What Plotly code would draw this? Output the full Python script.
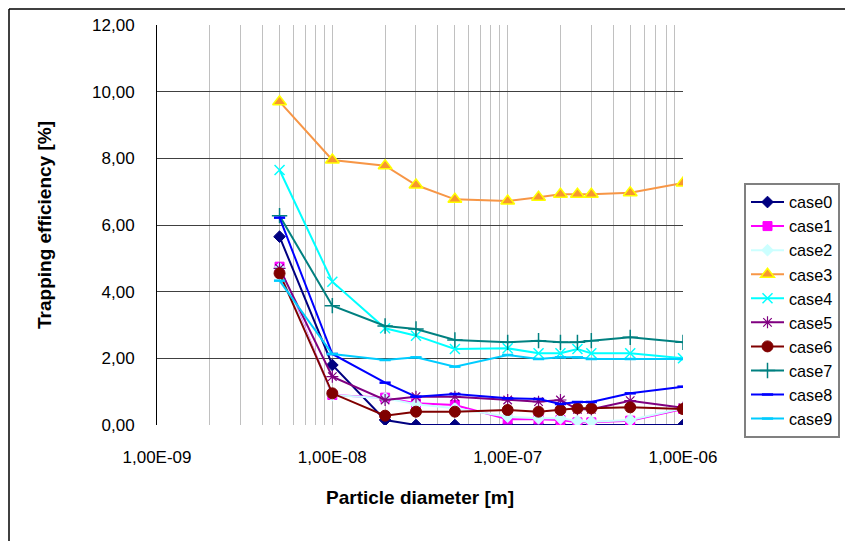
import plotly.graph_objects as go

diameters = [5e-9, 1e-8, 2e-8, 3e-8, 5e-8, 1e-7, 1.5e-7, 2e-7, 2.5e-7, 3e-7, 5e-7, 1e-6]

case0 = [5.65, 1.80, 0.15, 0, 0, 0, 0, 0, 0, 0, 0, 0]
case1 = [4.75, 0.90, 0.82, 0.65, 0.60, 0.17, 0.17, 0.15, 0.08, 0.08, 0.13, 0.48]
case2 = [4.70, 0.90, 0.80, 0.62, 0.50, 0.25, 0.20, 0.20, 0.12, 0.10, 0.15, 0.50]
case3 = [9.70, 7.95, 7.78, 7.20, 6.77, 6.72, 6.83, 6.92, 6.92, 6.92, 6.97, 7.26]
case4 = [7.65, 4.30, 2.90, 2.68, 2.28, 2.30, 2.15, 2.15, 2.28, 2.15, 2.15, 2.00]
case5 = [4.70, 1.45, 0.75, 0.85, 0.85, 0.75, 0.70, 0.75, 0.47, 0.47, 0.73, 0.52]
case6 = [4.55, 0.95, 0.28, 0.40, 0.40, 0.45, 0.40, 0.45, 0.50, 0.50, 0.53, 0.48]
case7 = [6.28, 3.58, 2.97, 2.88, 2.55, 2.48, 2.53, 2.48, 2.48, 2.53, 2.63, 2.48]
case8 = [6.22, 2.13, 1.27, 0.85, 0.93, 0.80, 0.78, 0.63, 0.69, 0.69, 0.95, 1.15]
case9 = [4.33, 2.13, 1.95, 2.03, 1.75, 2.10, 1.98, 2.03, 2.03, 1.98, 1.98, 1.98]

series_names = ["case0", "case1", "case2", "case3", "case4", "case5", "case6", "case7", "case8", "case9"]
series_values = [case0, case1, case2, case3, case4, case5, case6, case7, case8, case9]

x_tick_vals = [1e-9, 1e-8, 1e-7, 1e-6]
x_tick_text = ["1,00E-09", "1,00E-08", "1,00E-07", "1,00E-06"]
y_tick_vals = [0, 2, 4, 6, 8, 10, 12]
y_tick_text = ["0,00", "2,00", "4,00", "6,00", "8,00", "10,00", "12,00"]

styles = [
    dict(color="#000080", symbol="diamond", size=9, mline="#000080", mw=1, mfill="#000080"),
    dict(color="#FF00FF", symbol="square", size=9, mline="#FF00FF", mw=1, mfill="#FF00FF"),
    dict(color="#CCFFFF", symbol="diamond", size=9, mline="#CCFFFF", mw=1, mfill="#CCFFFF"),
    dict(color="#F79646", symbol="triangle-up", size=12, mline="#FFFF00", mw=1.5, mfill="#F7962F"),
    dict(color="#00FFFF", symbol="x-thin-open", size=10, mline="#00FFFF", mw=1.5, mfill="#00FFFF"),
    dict(color="#800080", symbol="asterisk-open", size=10, mline="#993399", mw=1.2, mfill="#800080"),
    dict(color="#800000", symbol="circle", size=11, mline="#800000", mw=1, mfill="#800000"),
    dict(color="#008080", symbol="cross-thin-open", size=11, mline="#008080", mw=1.5, mfill="#008080"),
    dict(color="#0000FF", symbol="line-ew-open", size=8, mline="#0000FF", mw=2.5, mfill="#0000FF"),
    dict(color="#00CCFF", symbol="line-ew-open", size=8, mline="#00CCFF", mw=2.5, mfill="#00CCFF"),
]

fig = go.Figure()
for name, vals, st in zip(series_names, series_values, styles):
    fig.add_trace(go.Scatter(
        x=diameters, y=vals, name=name, mode="lines+markers",
        line=dict(color=st["color"], width=2),
        marker=dict(symbol=st["symbol"], size=st["size"], color=st["mfill"],
                    line=dict(color=st["mline"], width=st["mw"])),
    ))

minor_vals = [k * 10.0 ** e for e in range(-9, -6) for k in range(2, 10)]

# page body adds an 8px margin; size the figure so no scrollbars appear
fig.update_layout(
    width=837, height=533,
    margin=dict(l=149, r=162, t=17, b=116, autoexpand=False),
    paper_bgcolor="white", plot_bgcolor="white",
    font=dict(family="Arial, Liberation Sans, sans-serif", color="black", size=17),
    showlegend=True,
    legend=dict(
        x=(736 - 149) / 526.0, y=(400 - 158) / 400.0, xanchor="left", yanchor="top",
        bordercolor="#808080", borderwidth=2, bgcolor="white",
        font=dict(size=16.2, color="black"),
        tracegroupgap=0, itemwidth=33,
    ),
    xaxis=dict(
        type="log", range=[-9, -6],
        tickvals=x_tick_vals, ticktext=x_tick_text,
        showgrid=True, gridcolor="#C0C0C0", gridwidth=1,
        minor=dict(tickvals=minor_vals, showgrid=True, gridcolor="#C0C0C0", gridwidth=1),
        ticks="", ticklabelstandoff=20,
        showline=False, zeroline=False,
        tickfont=dict(size=17),
        title=dict(text="<b>Particle diameter [m]</b>", font=dict(size=19), standoff=24),
    ),
    yaxis=dict(
        range=[0, 12],
        tickvals=y_tick_vals, ticktext=y_tick_text,
        showgrid=True, gridcolor="#404040", gridwidth=1,
        ticks="", ticklabelstandoff=18,
        showline=True, linecolor="black", linewidth=1,
        zeroline=False,
        tickfont=dict(size=17),
        title=dict(text="<b>Trapping efficiency [%]</b>", font=dict(size=19), standoff=35),
    ),
    shapes=[
        dict(type="line", xref="paper", yref="paper",
             x0=-148.0 / 526, x1=-148.0 / 526, y0=-1, y1=1 + 16.0 / 400,
             line=dict(color="black", width=1.5)),
        dict(type="line", xref="paper", yref="paper",
             x0=-148.0 / 526, x1=2, y0=1 + 16.0 / 400, y1=1 + 16.0 / 400,
             line=dict(color="black", width=1.5)),
    ],
)

fig.write_html("out.html")
